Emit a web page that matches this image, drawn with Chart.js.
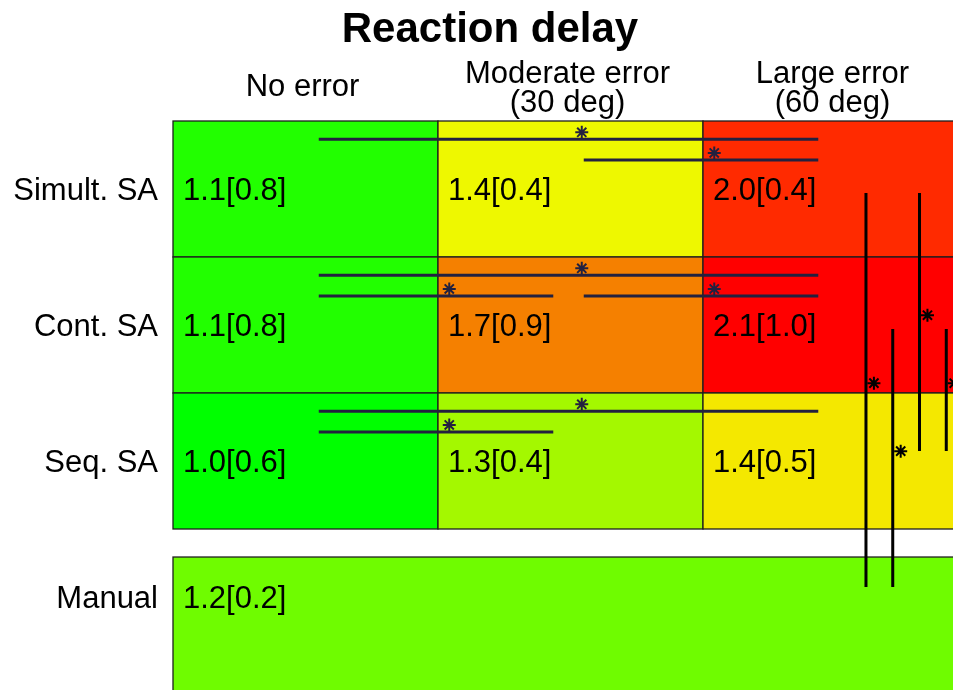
<!DOCTYPE html>
<html>
<head>
<meta charset="utf-8">
<title>Reaction delay</title>
<script src="https://cdn.jsdelivr.net/npm/chart.js@4.4.1/dist/chart.umd.min.js"></script>
<style>
  html, body { margin: 0; padding: 0; background: #fff; overflow: hidden; }
  #wrap { width: 1000px; height: 700px; }
</style>
</head>
<body>
<div id="wrap"><canvas id="c" width="1000" height="700"></canvas></div>
<script>
// ---- data ----
const chartTitle = 'Reaction delay';
const errorLevels = [['No error'], ['Moderate error', '(30 deg)'], ['Large error', '(60 deg)']];
const modes = ['Simult. SA', 'Cont. SA', 'Seq. SA'];
const manualLabel = 'Manual';

// mean [SD] reaction delay, rows = modes, columns = error levels
const meanDelay = [
  [1.1, 1.4, 2.0],
  [1.1, 1.7, 2.1],
  [1.0, 1.3, 1.4]
];
const sdDelay = [
  [0.8, 0.4, 0.4],
  [0.8, 0.9, 1.0],
  [0.6, 0.4, 0.5]
];
const manualMean = 1.2;
const manualSd = 0.2;

// significant differences between error levels within a mode: [mode, fromLevel, toLevel, lane]
const levelPairs = [
  [0, 0, 2, 0],
  [0, 1, 2, 1],
  [1, 0, 2, 0],
  [1, 0, 1, 1],
  [1, 1, 2, 1],
  [2, 0, 2, 0],
  [2, 0, 1, 1]
];
// significant differences between modes (3 = manual): [fromMode, toMode, lane]
const modePairs = [
  [0, 3, 0],
  [1, 3, 1],
  [0, 2, 2],
  [1, 2, 3]
];

// ---- styles ----
const cellColors = [
  ['#22ff00', '#eef800', '#ff2a00'],
  ['#22ff00', '#f58000', '#ff0000'],
  ['#00ff00', '#a4f800', '#f4e800']
];
const manualColor = '#6ffc00';
const bracketColor = '#23213f';
const FONT = '"Liberation Sans", Arial, Helvetica, sans-serif';
const TEXT_DY = 2;                     // nudge for vertically centred labels

// layout in scale units: one unit per column / per row
const ROW_GAP = 0.206;                 // space above the manual row
const manualTop = modes.length + ROW_GAP;
const textY = r => (r < modes.length ? r + 0.507 : manualTop + 0.3);

function fmt(m, s) { return m.toFixed(1) + '[' + s.toFixed(1) + ']'; }

// bracket lines and asterisks built from the comparison lists
const lineSets = [];
const starPts = [];
levelPairs.forEach(([row, a, b, lane]) => {
  const y = row + 0.135 + lane * 0.152;
  const x0 = a + 0.55, x1 = b + 0.435;
  lineSets.push({ pts: [{ x: x0, y }, { x: x1, y }], color: bracketColor });
  starPts.push({ x: (x0 + x1) / 2 + 0.05, y: y - 0.052, color: bracketColor });
});
modePairs.forEach(([r0, r1, lane]) => {
  const x = 2.615 + lane * 0.101;
  const y0 = textY(r0) + 0.022, y1 = textY(r1) - 0.08;
  lineSets.push({ pts: [{ x, y: y0 }, { x, y: y1 }], color: '#000' });
  starPts.push({ x: x + 0.03, y: (y0 + y1) / 2 - 0.05, color: '#000' });
});

const datasets = lineSets.map(l => ({
  type: 'line',
  data: l.pts,
  showLine: true,
  borderColor: l.color,
  borderWidth: 3,
  pointRadius: 0,
  fill: false
}));
datasets.push({
  type: 'scatter',
  data: starPts.map(p => ({ x: p.x, y: p.y })),
  pointStyle: 'star',
  pointRadius: 6.5,
  borderWidth: 2,
  borderColor: starPts.map(p => p.color),
  backgroundColor: starPts.map(p => p.color)
});

// cells, values and labels drawn through the chart scales
const tablePlugin = {
  id: 'table',
  beforeDatasetsDraw(chart) {
    const { ctx, scales: { x, y } } = chart;
    const rect = (c0, c1, r0, r1, color) => {
      const px0 = x.getPixelForValue(c0), px1 = x.getPixelForValue(c1);
      const py0 = y.getPixelForValue(r0), py1 = y.getPixelForValue(r1);
      ctx.fillStyle = color;
      ctx.fillRect(px0, py0, px1 - px0, py1 - py0);
      ctx.strokeStyle = '#1e1e1e';
      ctx.lineWidth = 1.3;
      ctx.strokeRect(px0, py0, px1 - px0, py1 - py0);
    };
    ctx.save();
    meanDelay.forEach((row, r) => row.forEach((v, c) => rect(c, c + 1, r, r + 1, cellColors[r][c])));
    rect(0, errorLevels.length + 0.5, manualTop, manualTop + 1.2, manualColor);

    ctx.fillStyle = '#000';
    ctx.font = '31px ' + FONT;
    ctx.textBaseline = 'middle';
    ctx.textAlign = 'left';
    meanDelay.forEach((row, r) => row.forEach((v, c) => {
      ctx.fillText(fmt(v, sdDelay[r][c]), x.getPixelForValue(c) + 10, y.getPixelForValue(textY(r)) + TEXT_DY);
    }));
    ctx.fillText(fmt(manualMean, manualSd), x.getPixelForValue(0) + 10, y.getPixelForValue(textY(3)) + TEXT_DY);
    ctx.restore();
  },
  afterDraw(chart) {
    const { ctx, scales: { x, y } } = chart;
    ctx.save();
    ctx.fillStyle = '#000';
    ctx.textBaseline = 'middle';

    ctx.font = 'bold 42px ' + FONT;
    ctx.textAlign = 'center';
    ctx.fillText(chartTitle, 490, 30);

    ctx.font = '31px ' + FONT;
    errorLevels.forEach((lines, c) => {
      const cx = x.getPixelForValue(c + 0.5) - 3;
      if (lines.length === 1) {
        ctx.fillText(lines[0], cx, 85 + TEXT_DY);
      } else {
        ctx.fillText(lines[0], cx, 72 + TEXT_DY);
        ctx.fillText(lines[1], cx, 101 + TEXT_DY);
      }
    });

    ctx.textAlign = 'right';
    const lx = x.getPixelForValue(0) - 15;
    modes.forEach((m, r) => ctx.fillText(m, lx, y.getPixelForValue(textY(r)) + TEXT_DY));
    ctx.fillText(manualLabel, lx, y.getPixelForValue(textY(3)) + TEXT_DY);
    ctx.restore();
  }
};

new Chart(document.getElementById('c'), {
  type: 'scatter',
  data: { datasets },
  options: {
    responsive: false,
    animation: false,
    events: [],
    layout: { autoPadding: false, padding: { left: 173, top: 121, right: 32, bottom: 0 } },
    scales: {
      x: { type: 'linear', min: 0, max: 3, display: false },
      y: { type: 'linear', min: 0, max: 579 / 136, reverse: true, display: false }
    },
    plugins: { legend: { display: false }, tooltip: { enabled: false }, title: { display: false } }
  },
  plugins: [tablePlugin]
});
</script>
</body>
</html>
